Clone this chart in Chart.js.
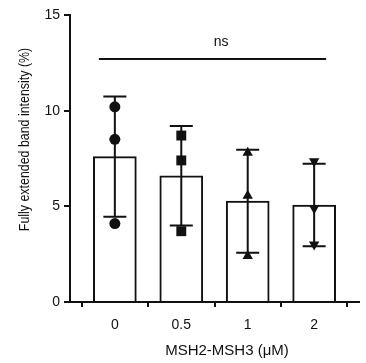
<!DOCTYPE html>
<html><head><meta charset="utf-8">
<script src="https://cdn.jsdelivr.net/npm/chart.js@4"></script>
<style>html,body{margin:0;padding:0;background:#fff}canvas{display:block}</style>
</head><body>
<canvas id="c" width="366" height="363"></canvas>
<script>
const categories = ['0', '0.5', '1', '2'];
const means = [7.6, 6.6, 5.27, 5.07];
const sds = [3.14, 2.6, 2.69, 2.15];
const points0 = [10.2, 8.5, 4.1];
const points05 = [8.7, 7.4, 3.7];
const points1 = [7.8, 5.55, 2.4];
const points2 = [7.35, 4.9, 3.0];
const yTicks = [0, 5, 10, 15];
const sigLabel = 'ns';
const sigY = 12.7;
const sigLabelY = 13.6;
const sigFrom = -0.24, sigTo = 3.18;
const xTitle = 'MSH2-MSH3 (μM)';
const yTitle = 'Fully extended band intensity (%)';

const FONT = '"Liberation Sans", Arial, Helvetica, sans-serif';
const INK = '#111';

function pts(arr, i) { return arr.map(v => ({x: i, y: v})); }

const extras = {
  id: 'extras',
  afterDatasetsDraw(chart) {
    const {ctx, scales: {x, y}} = chart;
    ctx.save();
    ctx.strokeStyle = INK; ctx.lineWidth = 2; ctx.lineCap = 'butt';
    means.forEach((m, i) => {
      const px = x.getPixelForValue(i);
      const top = y.getPixelForValue(m + sds[i]);
      const bot = y.getPixelForValue(m - sds[i]);
      ctx.beginPath();
      ctx.moveTo(px, top); ctx.lineTo(px, bot);
      ctx.moveTo(px - 11.5, top); ctx.lineTo(px + 11.5, top);
      ctx.moveTo(px - 11.5, bot); ctx.lineTo(px + 11.5, bot);
      ctx.stroke();
    });
    // significance line
    const sy = y.getPixelForValue(sigY);
    ctx.beginPath();
    ctx.moveTo(x.getPixelForValue(sigFrom), sy);
    ctx.lineTo(x.getPixelForValue(sigTo), sy);
    ctx.stroke();
    ctx.fillStyle = INK;
    ctx.font = '14px ' + FONT;
    ctx.textAlign = 'center'; ctx.textBaseline = 'middle';
    ctx.fillText(sigLabel, x.getPixelForValue(1.6), y.getPixelForValue(sigLabelY));
    // axis titles
    ctx.font = '15px ' + FONT;
    ctx.fillText(xTitle, 227, 351);
    ctx.save();
    ctx.translate(25, 139.5);
    ctx.rotate(-Math.PI / 2);
    ctx.scale(0.8, 1);
    ctx.font = '15.5px ' + FONT;
    ctx.fillText(yTitle, 0, 0);
    ctx.restore();
    ctx.restore();
  }
};

const scatterStyle = (data, style, rot) => ({
  type: 'scatter', data, order: 1,
  pointStyle: style, pointRotation: rot || 0,
  pointRadius: style === 'rect' ? 7 : (style === 'circle' ? 5.5 : 6),
  backgroundColor: INK, borderColor: INK, borderWidth: 0
});

new Chart(document.getElementById('c'), {
  data: {
    datasets: [
      {
        type: 'bar', order: 5,
        data: means.map((m, i) => ({x: i, y: m})),
        backgroundColor: '#fff', borderColor: INK, borderWidth: 2,
        barThickness: 43
      },
      scatterStyle(pts(points0, 0), 'circle'),
      scatterStyle(pts(points05, 1), 'rect'),
      scatterStyle(pts(points1, 2), 'triangle'),
      scatterStyle(pts(points2, 3), 'triangle', 180)
    ]
  },
  options: {
    responsive: false, animation: false, devicePixelRatio: 1,
    layout: {padding: {top: 15, right: 6, left: 0, bottom: 0}},
    plugins: {legend: {display: false}, tooltip: {enabled: false}},
    scales: {
      x: {
        type: 'linear', min: -0.675, max: 3.675, offset: false,
        afterBuildTicks: s => { s.ticks = categories.map((c, i) => ({value: i})); },
        afterFit: s => { s.height = 61; },
        ticks: {
          callback: v => categories[v], color: INK, padding: 10,
          font: {family: FONT, size: 14}, maxRotation: 0, autoSkip: false
        },
        grid: {drawOnChartArea: false, drawTicks: true, tickLength: 5, color: INK, lineWidth: 2},
        border: {color: INK, width: 2}
      },
      y: {
        type: 'linear', min: 0, max: 15,
        afterBuildTicks: s => { s.ticks = yTicks.map(v => ({value: v})); },
        afterFit: s => { s.width = 70; },
        ticks: {color: INK, padding: 4, font: {family: FONT, size: 14}},
        grid: {drawOnChartArea: false, drawTicks: true, tickLength: 6, color: INK, lineWidth: 2},
        border: {color: INK, width: 2}
      }
    }
  },
  plugins: [extras]
});
</script>
</body></html>
